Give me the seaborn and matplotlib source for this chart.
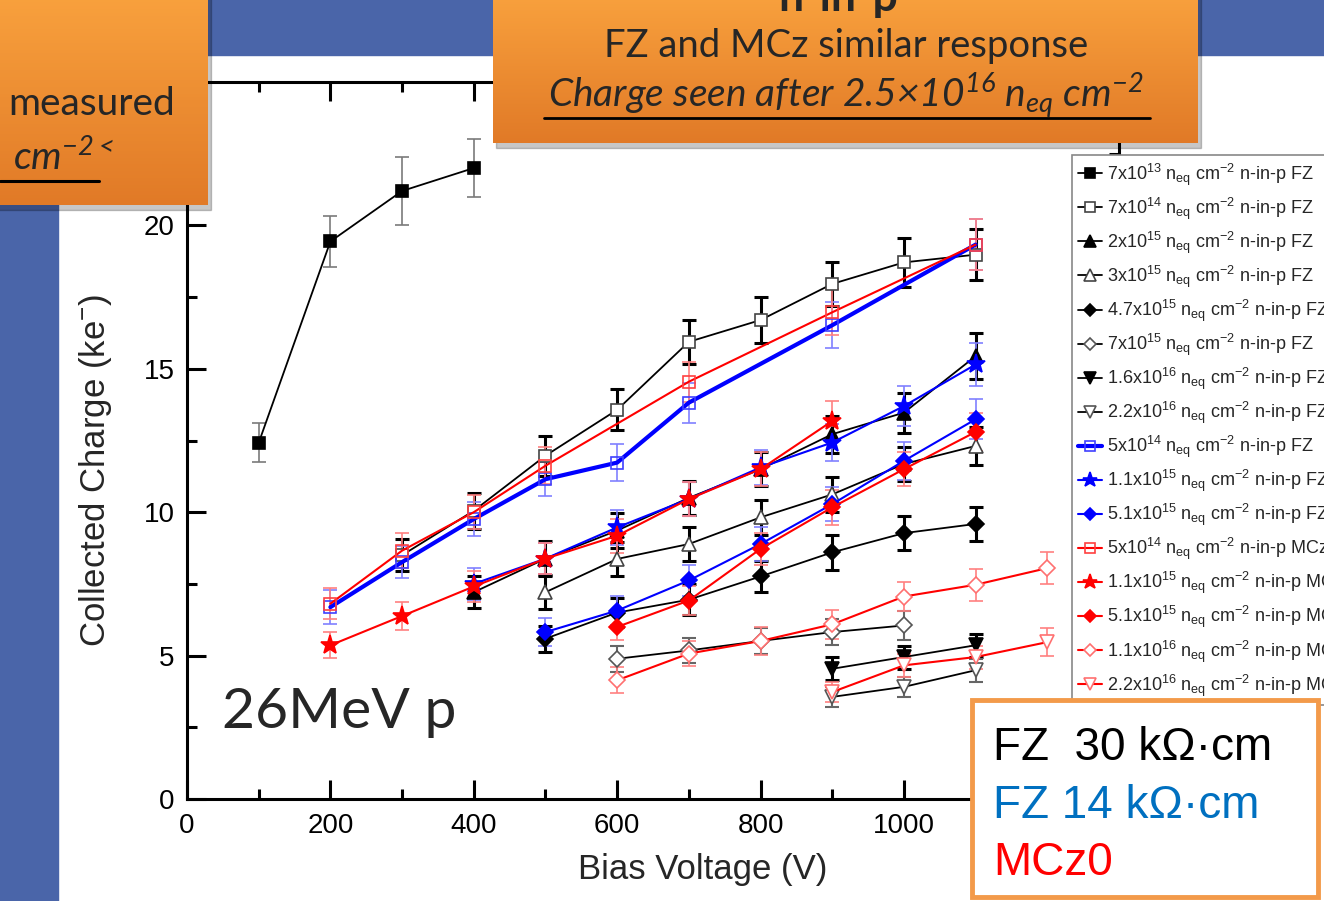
import matplotlib
matplotlib.use('Agg')
import matplotlib.pyplot as plt
from matplotlib.patches import Rectangle
from matplotlib.lines import Line2D
from matplotlib.colors import LinearSegmentedColormap
from matplotlib.ticker import MultipleLocator, FuncFormatter
import numpy as np
import seaborn as sns

# ---- data (bias voltage in V, charge in ke-) ----
v_7e13 = [100, 200, 300, 400]
q_7e13 = [12.42, 19.44, 21.2, 22.0]
e_7e13 = [0.68, 0.9, 1.2, 1.0]

v_7e14 = [300, 400, 500, 600, 700, 800, 900, 1000, 1100]
q_7e14 = [8.5, 10.05, 11.97, 13.57, 15.94, 16.70, 17.96, 18.71, 18.98]
e_7e14 = [0.55, 0.63, 0.7, 0.71, 0.77, 0.8, 0.78, 0.86, 0.9]

v_2e15 = [400, 500, 600, 700, 800, 900, 1000, 1100]
q_2e15 = [7.21, 8.38, 9.36, 10.5, 11.5, 12.72, 13.47, 15.44]
e_2e15 = [0.55, 0.6, 0.6, 0.6, 0.6, 0.65, 0.7, 0.8]

v_3e15 = [500, 600, 700, 800, 900, 1000, 1100]
q_3e15 = [7.21, 8.37, 8.89, 9.82, 10.62, 11.68, 12.31]
e_3e15 = [0.6, 0.6, 0.6, 0.6, 0.6, 0.6, 0.65]

v_47e15 = [500, 600, 700, 800, 900, 1000, 1100]
q_47e15 = [5.59, 6.5, 6.95, 7.76, 8.60, 9.27, 9.59]
e_47e15 = [0.45, 0.5, 0.55, 0.55, 0.6, 0.6, 0.6]

v_7e15 = [600, 700, 800, 900, 1000]
q_7e15 = [4.89, 5.18, 5.51, 5.82, 6.05]
e_7e15 = [0.45, 0.45, 0.45, 0.45, 0.5]

v_16e16 = [900, 1000, 1100]
q_16e16 = [4.54, 4.95, 5.36]
e_16e16 = [0.4, 0.4, 0.4]

v_22e16 = [900, 1000, 1100]
q_22e16 = [3.56, 3.91, 4.49]
e_22e16 = [0.35, 0.35, 0.4]

v_5e14_b = [200, 300, 400, 500, 600, 700, 900, 1100]
q_5e14_b = [6.69, 8.26, 9.76, 11.15, 11.73, 13.82, 16.52, 19.33]
e_5e14_b = [0.6, 0.55, 0.6, 0.6, 0.65, 0.7, 0.8, 0.9]

v_11e15_b = [400, 500, 600, 700, 800, 900, 1000, 1100]
q_11e15_b = [7.50, 8.38, 9.47, 10.46, 11.56, 12.43, 13.70, 15.15]
e_11e15_b = [0.55, 0.55, 0.6, 0.6, 0.6, 0.65, 0.7, 0.75]

v_51e15_b = [500, 600, 700, 800, 900, 1000, 1100]
q_51e15_b = [5.82, 6.57, 7.62, 8.89, 10.28, 11.79, 13.24]
e_51e15_b = [0.5, 0.5, 0.55, 0.6, 0.6, 0.65, 0.7]

v_5e14_m = [200, 300, 400, 500, 700, 900, 1100]
q_5e14_m = [6.81, 8.66, 10.0, 11.62, 14.55, 16.97, 19.33]
e_5e14_m = [0.55, 0.6, 0.6, 0.65, 0.7, 0.8, 0.9]

v_11e15_m = [200, 300, 400, 500, 600, 700, 800, 900]
q_11e15_m = [5.36, 6.38, 7.41, 8.38, 9.18, 10.46, 11.50, 13.18]
e_11e15_m = [0.45, 0.5, 0.55, 0.55, 0.6, 0.6, 0.6, 0.7]

v_51e15_m = [600, 700, 800, 900, 1000, 1100]
q_51e15_m = [6.0, 6.92, 8.72, 10.17, 11.50, 12.80]
e_51e15_m = [0.45, 0.5, 0.55, 0.6, 0.6, 0.65]

v_11e16_m = [600, 700, 800, 900, 1000, 1100, 1200]
q_11e16_m = [4.14, 5.07, 5.51, 6.09, 7.06, 7.47, 8.05]
e_11e16_m = [0.45, 0.45, 0.5, 0.5, 0.5, 0.55, 0.55]

v_22e16_m = [900, 1000, 1100, 1200]
q_22e16_m = [3.73, 4.66, 4.95, 5.47]
e_22e16_m = [0.35, 0.4, 0.4, 0.5]

series_labels = [
    '7x10$^{13}$ n$_{eq}$ cm$^{-2}$ n-in-p FZ',
    '7x10$^{14}$ n$_{eq}$ cm$^{-2}$ n-in-p FZ',
    '2x10$^{15}$ n$_{eq}$ cm$^{-2}$ n-in-p FZ',
    '3x10$^{15}$ n$_{eq}$ cm$^{-2}$ n-in-p FZ',
    '4.7x10$^{15}$ n$_{eq}$ cm$^{-2}$ n-in-p FZ',
    '7x10$^{15}$ n$_{eq}$ cm$^{-2}$ n-in-p FZ',
    '1.6x10$^{16}$ n$_{eq}$ cm$^{-2}$ n-in-p FZ',
    '2.2x10$^{16}$ n$_{eq}$ cm$^{-2}$ n-in-p FZ',
    '5x10$^{14}$ n$_{eq}$ cm$^{-2}$ n-in-p FZ',
    '1.1x10$^{15}$ n$_{eq}$ cm$^{-2}$ n-in-p FZ',
    '5.1x10$^{15}$ n$_{eq}$ cm$^{-2}$ n-in-p FZ',
    '5x10$^{14}$ n$_{eq}$ cm$^{-2}$ n-in-p MCz',
    '1.1x10$^{15}$ n$_{eq}$ cm$^{-2}$ n-in-p MCz',
    '5.1x10$^{15}$ n$_{eq}$ cm$^{-2}$ n-in-p MCz',
    '1.1x10$^{16}$ n$_{eq}$ cm$^{-2}$ n-in-p MCz',
    '2.2x10$^{16}$ n$_{eq}$ cm$^{-2}$ n-in-p MCz',
]

series_data = [
    (v_7e13, q_7e13, e_7e13), (v_7e14, q_7e14, e_7e14),
    (v_2e15, q_2e15, e_2e15), (v_3e15, q_3e15, e_3e15),
    (v_47e15, q_47e15, e_47e15), (v_7e15, q_7e15, e_7e15),
    (v_16e16, q_16e16, e_16e16), (v_22e16, q_22e16, e_22e16),
    (v_5e14_b, q_5e14_b, e_5e14_b), (v_11e15_b, q_11e15_b, e_11e15_b),
    (v_51e15_b, q_51e15_b, e_51e15_b), (v_5e14_m, q_5e14_m, e_5e14_m),
    (v_11e15_m, q_11e15_m, e_11e15_m), (v_51e15_m, q_51e15_m, e_51e15_m),
    (v_11e16_m, q_11e16_m, e_11e16_m), (v_22e16_m, q_22e16_m, e_22e16_m),
]

# styles: line colour, marker, face, edge, marker size, line width, errorbar colour, errorbar width
K, B, R = '#000000', '#0000ff', '#ff0000'
styles = [
    (K, 's', K, K, 8.5, 1.3, '#7a7a7a', 1.2),
    (K, 's', 'white', '#444444', 9, 1.3, K, 2.2),
    (K, '^', K, K, 10, 1.3, K, 2.2),
    (K, '^', 'white', '#444444', 10, 1.3, K, 2.2),
    (K, 'D', K, K, 8, 1.3, K, 2.2),
    (K, 'D', 'white', '#555555', 8, 1.3, '#666666', 1.5),
    (K, 'v', K, K, 10, 1.3, K, 2.2),
    (K, 'v', 'white', '#555555', 10, 1.3, '#666666', 1.5),
    (B, 's', 'none', '#4040ff', 9, 3.0, '#8080ff', 1.2),
    (B, '*', B, B, 14, 1.5, '#8080ff', 1.2),
    (B, 'D', B, B, 8, 1.5, '#8080ff', 1.2),
    (R, 's', 'none', '#ff4040', 9, 1.5, '#ff8080', 1.2),
    (R, '*', R, R, 14, 1.5, '#ff8080', 1.2),
    (R, 'D', R, R, 8, 1.5, '#ff8080', 1.2),
    (R, 'D', 'white', '#ff7070', 8, 1.5, '#ff8080', 1.2),
    (R, 'v', 'white', '#ff7070', 10, 1.5, '#ff8080', 1.2),
]

sns.set_style('ticks')
plt.rcParams['font.family'] = ['Liberation Sans', 'DejaVu Sans']
plt.rcParams['mathtext.default'] = 'regular'

W, H = 1324, 901
fig = plt.figure(figsize=(W / 100, H / 100), dpi=100)


def fx(px):
    return px / W


def fy(py):
    return 1 - py / H


# slide background (blue bar on top and left)
slide_blue = '#4a65a9'
fig.add_artist(Rectangle((0, fy(55)), 1, 55 / H, transform=fig.transFigure,
                         color=slide_blue, zorder=-5))
fig.add_artist(Rectangle((0, 0), fx(58), fy(55), transform=fig.transFigure,
                         color=slide_blue, zorder=-5))

ax = fig.add_axes([fx(187), fy(799), 932 / W, 717 / H])
ax.set_facecolor('none')

for (x, y, err), lab, st in zip(series_data, series_labels, styles):
    col, mk, mfc, mec, ms, lw, ecol, elw = st
    ax.errorbar(x, y, yerr=err, fmt='none', ecolor=ecol, elinewidth=elw,
                capsize=5, capthick=elw, zorder=2)
    sns.lineplot(x=x, y=y, ax=ax, color=col, lw=lw, marker=mk, markersize=ms,
                 markerfacecolor=mfc, markeredgecolor=mec, markeredgewidth=1.2,
                 label=lab, zorder=3)

ax.set_xlim(0, 1300)
ax.set_ylim(0, 25)
ax.xaxis.set_major_locator(MultipleLocator(200))
ax.xaxis.set_minor_locator(MultipleLocator(100))
ax.yaxis.set_major_locator(MultipleLocator(5))
ax.yaxis.set_minor_locator(MultipleLocator(2.5))
# the 25 and 1200 labels sit under the slide boxes
ax.yaxis.set_major_formatter(FuncFormatter(lambda v, p: '' if v > 22 else '%d' % v))
ax.xaxis.set_major_formatter(FuncFormatter(lambda v, p: '' if v > 1100 else '%d' % v))
ax.tick_params(which='both', direction='in', top=True, right=True, width=2.2,
               colors='black')
ax.tick_params(which='major', length=14, labelsize=20)
ax.tick_params(which='minor', length=7)
ax.tick_params(axis='x', pad=10)
ax.tick_params(axis='y', pad=9)
for sp in ax.spines.values():
    sp.set_linewidth(2.2)
    sp.set_color('black')

ax.set_xlabel('Bias Voltage (V)', fontsize=25)
ax.xaxis.set_label_coords(0.553, -0.076)
ax.set_ylabel('Collected Charge (ke$^{-}$)', fontsize=25)
ax.yaxis.set_label_coords(-0.078, 0.459)

leg = ax.legend(loc='upper left', bbox_to_anchor=(fx(1072), fy(155)),
                bbox_transform=fig.transFigure, fontsize=13, markerscale=0.8,
                handlelength=1.3, handletextpad=0.3, labelspacing=0.43,
                borderpad=0.35, borderaxespad=0, fancybox=False, framealpha=1,
                edgecolor='#888888')
leg.get_frame().set_linewidth(1.2)

fig.text(fx(222), fy(728), '26MeV p', fontsize=41, family='Lato', va='baseline')

# orange callout boxes
orange = LinearSegmentedColormap.from_list('orange', ['#f9a23e', '#e17a27'])
grad = np.linspace(0, 1, 64).reshape(-1, 1)


def callout(x0, y0, x1, y1):
    fig.add_artist(Rectangle((fx(x0 + 3), fy(y1 + 5)), (x1 - x0) / W, (y1 - y0) / H,
                             transform=fig.transFigure, color='black',
                             alpha=0.22, zorder=4))
    bx = fig.add_axes([fx(x0), fy(y1), (x1 - x0) / W, (y1 - y0) / H])
    bx.imshow(grad, aspect='auto', cmap=orange, extent=(0, 1, 0, 1))
    bx.set_axis_off()
    bx.set_zorder(5)


callout(-10, -10, 208, 205)
callout(493, -10, 1198, 143)

fig.text(fx(8), fy(115), 'measured', fontsize=28, family='Lato',
         va='baseline', zorder=7)
fig.text(fx(13), fy(170), 'cm$^{-2<}$', fontsize=28, family='Lato',
         style='italic', va='baseline', zorder=7)
fig.add_artist(Line2D([0, fx(99)], [fy(181), fy(181)], color='black', lw=2.2,
                      transform=fig.transFigure, zorder=7))

fig.text(fx(838), fy(11), 'n-in-p', fontsize=32, family='Lato',
         weight='bold', ha='center', va='baseline', zorder=7)
fig.text(fx(846), fy(57), 'FZ and MCz similar response', fontsize=27.5,
         family='Lato', ha='center', va='baseline', zorder=7)
fig.text(fx(846), fy(107), 'Charge seen after 2.5×10$^{16}$ n$_{eq}$ cm$^{-2}$',
         fontsize=28, family='Lato', style='italic', ha='center',
         va='baseline', zorder=7)
fig.add_artist(Line2D([fx(544), fx(1150)], [fy(118), fy(118)], color='black',
                      lw=2.0, transform=fig.transFigure, zorder=7))

# material key box, bottom right
fig.add_artist(Rectangle((fx(972), fy(897)), 346 / W, 197 / H,
                         transform=fig.transFigure, facecolor='white',
                         edgecolor='#f39a4a', lw=3.5, zorder=6))
fig.text(fx(993), fy(760), 'FZ  30 kΩ·cm', fontsize=33, color='black',
         va='baseline', zorder=7)
fig.text(fx(993), fy(818), 'FZ 14 kΩ·cm', fontsize=33, color='#0070c0',
         va='baseline', zorder=7)
fig.text(fx(993), fy(875), 'MCz0', fontsize=33, color='#ff0000',
         va='baseline', zorder=7)

fig.savefig('out.png', dpi=100)
